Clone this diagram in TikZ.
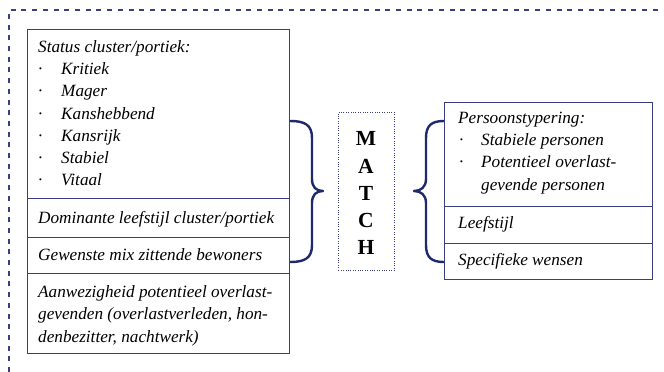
\documentclass[tikz,border=0pt]{standalone}
\usepackage{fontspec}
\setmainfont{Liberation Serif}
\definecolor{navy}{HTML}{3A3F80}
\definecolor{bracenavy}{HTML}{1F2A6E}
\begin{document}
\begin{tikzpicture}[x=1pt,y=-1pt,
  cell/.style={draw=navy, line width=1.2pt, anchor=north west, inner sep=0pt},
  txt/.style={anchor=base west, inner sep=0pt, font=\fontsize{17.2}{22}\selectfont\itshape},
  letter/.style={anchor=base, inner sep=0pt, font=\fontsize{21.5}{24}\selectfont\bfseries},
  bracepath/.style={draw=bracenavy, line width=2.4pt, line join=round},
  frame/.style={draw=navy, line width=1.2pt, dash pattern=on 5pt off 5.7pt}]
\useasboundingbox (0,0) rectangle (664,372);

% outer dashed frame (open to the right and bottom)
\coordinate (fbl) at (9,372);
\coordinate (ftl) at (9,10);
\coordinate (ftr) at (664,10);
\draw[frame] (fbl) -- (ftl) -- (ftr);

% left column of cells
\node[cell, minimum width=262pt, minimum height=169pt] (s1) at (27,29) {};
\node[cell, minimum width=262pt, minimum height=39pt] (s2) at (27,198) {};
\node[cell, minimum width=262pt, minimum height=36pt] (s3) at (27,237) {};
\node[cell, minimum width=262pt, minimum height=80pt] (s4) at (27,273) {};

\node[txt] (t1) at (38,52) {Status cluster/portiek:};
\node[txt] (b1) at (38,74.5) {·};
\node[txt] (t2) at (61,74.5) {Kritiek};
\node[txt] (b2) at (38,96.5) {·};
\node[txt] (t3) at (61,96.5) {Mager};
\node[txt] (b3) at (38,119) {·};
\node[txt] (t4) at (61,119) {Kanshebbend};
\node[txt] (b4) at (38,141) {·};
\node[txt] (t5) at (61,141) {Kansrijk};
\node[txt] (b5) at (38,163) {·};
\node[txt] (t6) at (61,163) {Stabiel};
\node[txt] (b6) at (38,185) {·};
\node[txt] (t7) at (61,185) {Vitaal};
\node[txt] (t8) at (38,223) {Dominante leefstijl cluster/portiek};
\node[txt] (t9) at (38,260) {Gewenste mix zittende bewoners};
\node[txt] (t10) at (38,297) {Aanwezigheid potentieel overlast-};
\node[txt] (t11) at (38,319.5) {gevenden (overlastverleden, hon-};
\node[txt] (t12) at (38,342) {denbezitter, nachtwerk)};

% middle box
\node[draw=navy, line width=0.9pt, dash pattern=on 1pt off 1.4pt, anchor=north west,
      minimum width=56pt, minimum height=158pt, inner sep=0pt] (match) at (338,112) {};
\node[letter] (m1) at (366,145.5) {M};
\node[letter] (m2) at (366,173) {A};
\node[letter] (m3) at (366,200) {T};
\node[letter] (m4) at (366,227) {C};
\node[letter] (m5) at (366,254.5) {H};

% right column of cells
\node[cell, minimum width=208pt, minimum height=104pt] (r1) at (444,102) {};
\node[cell, minimum width=208pt, minimum height=37pt] (r2) at (444,206) {};
\node[cell, minimum width=208pt, minimum height=36pt] (r3) at (444,243) {};

\node[txt] (u1) at (458,123) {Persoonstypering:};
\node[txt] (c1) at (459,145) {·};
\node[txt] (u2) at (481,145) {Stabiele personen};
\node[txt] (c2) at (459,167.5) {·};
\node[txt] (u3) at (481,167.5) {Potentieel overlast-};
\node[txt] (u4) at (481,190) {gevende personen};
\node[txt] (u5) at (458,228) {Leefstijl};
\node[txt] (u6) at (458,265) {Specifieke wensen};

% braces joining the cells to the match box
\coordinate (lbtop) at (s1.east |- 0,121);
\coordinate (lbbot) at (s3.east |- 0,262);
\coordinate (lbtip) at (323,191);
\draw[bracepath] (lbtop) .. controls (305,121) and (312,125) .. (312,138)
  -- (312,179) .. controls (312,187) and (316,191) .. (lbtip)
  .. controls (316,191) and (312,195) .. (312,203)
  -- (312,245) .. controls (312,258) and (305,262) .. (lbbot);

\coordinate (rbtop) at (r1.west |- 0,121);
\coordinate (rbbot) at (r3.west |- 0,262);
\coordinate (rbtip) at (414,191);
\draw[bracepath] (rbtop) .. controls (432,121) and (426,125) .. (426,138)
  -- (426,179) .. controls (426,187) and (421,191) .. (rbtip)
  .. controls (421,191) and (426,195) .. (426,203)
  -- (426,245) .. controls (426,258) and (432,262) .. (rbbot);
\end{tikzpicture}
\end{document}
